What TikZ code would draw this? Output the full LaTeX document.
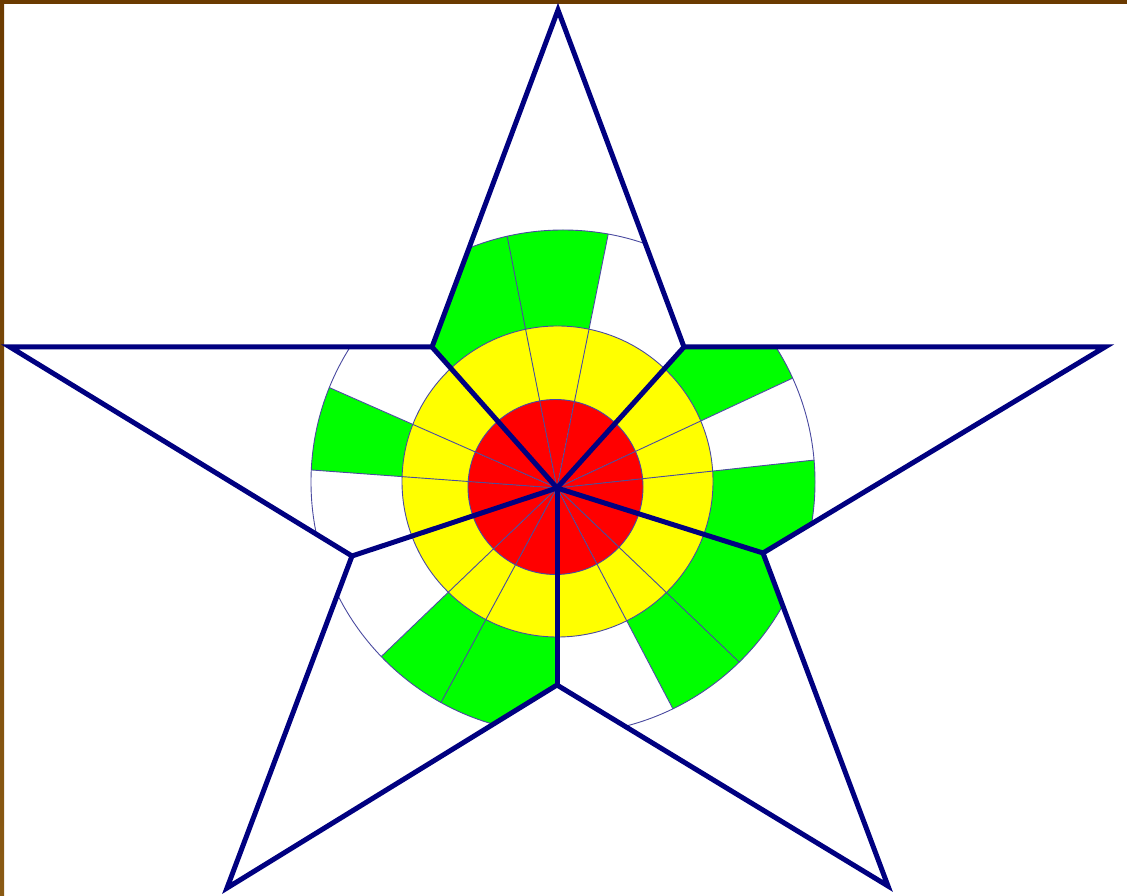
\documentclass[tikz,border=0pt]{standalone}
\usepackage{xcolor}
\usepackage{tikz}
\definecolor{StarNavy}{HTML}{000080}
\definecolor{SpokeNavy}{HTML}{4A4AA0}
\definecolor{LevelRed}{HTML}{FF0000}
\definecolor{LevelYellow}{HTML}{FFFF00}
\definecolor{LevelGreen}{HTML}{00FF00}
\definecolor{FrameBrown}{HTML}{6B3A00}
\definecolor{FrameLight}{HTML}{8A5A14}
\tikzset{
  starline/.style={draw=StarNavy,line width=5pt,line join=miter},
  ringline/.style={draw=SpokeNavy,line width=0.9pt},
}

\begin{document}
\begin{tikzpicture}[x=1pt,y=1pt]
  \useasboundingbox (0,0) rectangle (1127,895);
  \fill[white] (0,0) rectangle (1127,895);
  % frame
  \fill[FrameBrown] (0,891) rectangle (1127,895);
  \shade[top color=FrameBrown,bottom color=FrameLight] (0,0) rectangle (4,895);
  % centres of the rings
  \coordinate (hub) at (557,407);
  \coordinate (cOut) at (563,413);
  \coordinate (cYel) at (557.5,413.5);
  \coordinate (cRed) at (555.5,408);
  % star corners
  \coordinate (tipT) at (558,885);
  \coordinate (inTR) at (684,548);
  \coordinate (tipR) at (1105,548);
  \coordinate (inR) at (763,342);
  \coordinate (tipBR) at (888,9);
  \coordinate (inB) at (557,210);
  \coordinate (tipBL) at (227,7);
  \coordinate (inBL) at (352,339);
  \coordinate (tipL) at (10,548);
  \coordinate (inTL) at (432,548);
  \begin{scope}
    \clip (tipT) -- (inTR) -- (tipR) -- (inR) -- (tipBR) -- (inB)
      -- (tipBL) -- (inBL) -- (tipL) -- (inTL) -- cycle;
    \foreach \a/\b/\c in {131.6/101.2/LevelGreen, 101.2/78.6/LevelGreen,
        78.6/48.0/white, 48.0/25.0/LevelGreen, 25.0/6.2/white,
        6.2/-17.5/LevelGreen, -17.5/-43.7/LevelGreen, -43.7/-62.3/LevelGreen,
        -62.3/-90/white, -90/-118.4/LevelGreen, -118.4/-136.2/LevelGreen,
        -136.2/-161.6/white, -161.6/-184.2/white, -184.2/-203.8/LevelGreen,
        -203.8/-228.4/white}{
      \begin{scope}
        \clip (hub) -- +(\a:600) -- +(\b:600) -- cycle;
        \fill[\c] (cOut) circle[radius=252];
        \fill[LevelYellow] (cYel) circle[radius=155.5];
        \fill[LevelRed] (cRed) circle[radius=87.5];
      \end{scope}
    }
    \draw[ringline] (cOut) circle[radius=252];
    \draw[ringline] (cYel) circle[radius=155.5];
    \draw[ringline] (cRed) circle[radius=87.5];
    % spokes
    \begin{scope}
      \clip (cOut) circle[radius=252];
      \foreach \a in {101.2,78.6,25.0,6.2,-43.7,-62.3,-118.4,-136.2,-184.2,-203.8}
        \draw[ringline] (hub) -- +(\a:600);
    \end{scope}
  \end{scope}
  % star outline and hub lines
  \draw[starline] (tipT) -- (inTR) -- (tipR) -- (inR) -- (tipBR) -- (inB)
    -- (tipBL) -- (inBL) -- (tipL) -- (inTL) -- cycle;
  \foreach \v in {inTL,inTR,inR,inB,inBL}
    \draw[starline] (hub) -- (\v);
\end{tikzpicture}
\end{document}
